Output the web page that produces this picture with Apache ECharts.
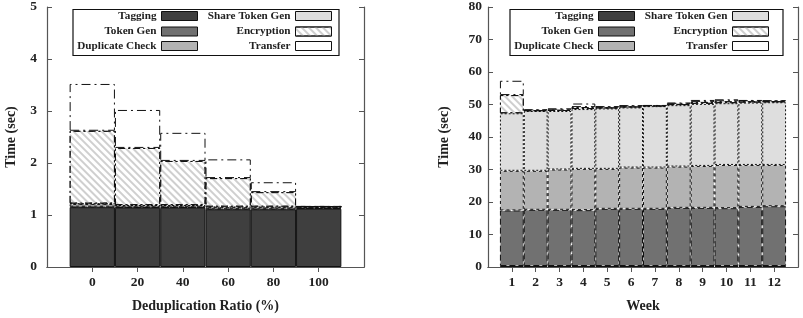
<!DOCTYPE html>
<html><head><meta charset="utf-8">
<script src="https://cdn.jsdelivr.net/npm/echarts@6/dist/echarts.min.js"></script>
<style>html,body{margin:0;padding:0;background:#fff}#c{width:803px;height:318px}</style>
</head><body><div id="c"></div>
<script>
// ---- data ----
const ratioLabels = ['0', '20', '40', '60', '80', '100'];
const weekLabels = ['1', '2', '3', '4', '5', '6', '7', '8', '9', '10', '11', '12'];
const seriesNames = ['Tagging', 'Token Gen', 'Duplicate Check', 'Share Token Gen', 'Encryption', 'Transfer'];

const leftTagging = [1.15, 1.14, 1.14, 1.11, 1.11, 1.12];
const leftTokenGen = [0.01, 0.01, 0.01, 0.01, 0.01, 0.01];
const leftDuplicateCheck = [0.05, 0.03, 0.03, 0.03, 0.03, 0.02];
const leftShareTokenGen = [0.01, 0.01, 0.01, 0.01, 0.01, 0.01];
const leftEncryption = [1.40, 1.10, 0.85, 0.55, 0.28, 0];
const leftTransfer = [0.90, 0.73, 0.54, 0.36, 0.19, 0.01];

const rightTagging = [0.3, 0.3, 0.3, 0.3, 0.3, 0.3, 0.3, 0.3, 0.3, 0.3, 0.3, 0.3];
const rightTokenGen = [17.1, 17.3, 17.3, 17.2, 17.6, 17.6, 17.6, 17.9, 17.9, 17.8, 18.2, 18.4];
const rightDuplicateCheck = [12.2, 12.0, 12.4, 12.7, 12.3, 12.7, 12.7, 12.7, 12.9, 13.3, 12.9, 12.7];
const rightShareTokenGen = [17.7, 18.4, 18.0, 18.4, 18.6, 18.5, 18.9, 18.9, 19.1, 19.0, 19.2, 19.3];
const rightEncryption = [5.6, 0.2, 0.4, 0.6, 0.3, 0.3, 0.1, 0.4, 0.6, 0.6, 0.4, 0.3];
const rightTransfer = [4.4, 0.3, 0.4, 1.1, 0.4, 0.4, 0.2, 0.4, 0.6, 0.6, 0.4, 0.3];

const leftValues = [leftTagging, leftTokenGen, leftDuplicateCheck, leftShareTokenGen, leftEncryption, leftTransfer];
const rightValues = [rightTagging, rightTokenGen, rightDuplicateCheck, rightShareTokenGen, rightEncryption, rightTransfer];

// ---- styles ----
const FONT = 'Liberation Serif';
const layerStyle = {
  'Tagging': { color: '#3f3f3f', borderType: 'solid' },
  'Token Gen': { color: '#717171', borderType: [6, 3] },
  'Duplicate Check': { color: '#b3b3b3', borderType: [3, 3] },
  'Share Token Gen': { color: '#dedede', borderType: [2, 2] },
  'Encryption': { color: '#ffffff', borderType: [7, 3, 2, 3],
    decal: { symbol: 'rect', color: '#cfcfcf', dashArrayX: [1, 0], dashArrayY: [1.5, 2.5], rotation: Math.PI / 4, symbolSize: 1 } },
  'Transfer': { color: '#ffffff', borderType: [9, 4, 2, 4] }
};

function pad(arr) { return [''].concat(arr, ['']); }
function padVals(arr) { return [null].concat(arr, [null]); }

function xAxes(gridIndex, labels, name) {
  const cats = pad(labels);
  const n = cats.length;
  const tickInt = (i) => i > 0 && i < n - 1;
  return [
    { type: 'category', gridIndex, data: cats, boundaryGap: false, position: 'bottom',
      name, nameLocation: 'middle', nameGap: 32,
      nameTextStyle: { fontFamily: FONT, fontWeight: 'bold', fontSize: 14, color: '#222' },
      axisLine: { lineStyle: { color: '#555', width: 1.2 } },
      axisTick: { inside: true, length: 5, interval: tickInt, lineStyle: { color: '#555' } },
      axisLabel: { interval: 0, margin: 9, fontFamily: FONT, fontWeight: 'bold', fontSize: 13.5, color: '#222' },
      splitLine: { show: false } },
    { type: 'category', gridIndex, data: cats, boundaryGap: false, position: 'top',
      axisLine: { lineStyle: { color: '#555', width: 1.2 } },
      axisTick: { inside: true, length: 5, interval: tickInt, lineStyle: { color: '#555' } },
      axisLabel: { show: false }, splitLine: { show: false } }
  ];
}
function yAxes(gridIndex, max, interval, nameGap, margin) {
  return [
    { type: 'value', gridIndex, min: 0, max, interval, position: 'left',
      name: 'Time (sec)', nameLocation: 'middle', nameGap,
      nameTextStyle: { fontFamily: FONT, fontWeight: 'bold', fontSize: 14, color: '#222' },
      axisLine: { show: true, lineStyle: { color: '#555', width: 1.2 } },
      axisTick: { show: true, inside: true, length: 5, lineStyle: { color: '#555' } },
      axisLabel: { margin, fontFamily: FONT, fontWeight: 'bold', fontSize: 13.5, color: '#222' },
      splitLine: { show: false } },
    { type: 'value', gridIndex, min: 0, max, interval, position: 'right',
      axisLine: { show: true, lineStyle: { color: '#555', width: 1.2 } },
      axisTick: { show: true, inside: true, length: 5, lineStyle: { color: '#555' } },
      axisLabel: { show: false }, splitLine: { show: false } }
  ];
}

function makeSeries(values, xi, yi, stack) {
  return seriesNames.map((name, k) => {
    const st = layerStyle[name];
    const itemStyle = { color: st.color, borderColor: '#111', borderWidth: 1, borderType: st.borderType };
    if (st.decal) itemStyle.decal = st.decal;
    return { type: 'bar', name, stack, xAxisIndex: xi, yAxisIndex: yi, barWidth: '100%',
      data: padVals(values[k]), itemStyle, emphasis: { disabled: true }, animation: false };
  });
}

// legends: one per item, right-aligned text then swatch
const legendCols = [[605, 471], [168, 34]];
const legendRows = [10.5, 26, 40.5];
const legends = [];
legendCols.forEach(cols => {
  seriesNames.forEach((name, k) => {
    const col = Math.floor(k / 3), row = k % 3;
    legends.push({ data: [name], align: 'right', orient: 'horizontal', right: cols[col], top: legendRows[row],
      padding: 0, itemWidth: 36, itemHeight: 9, icon: 'rect', selectedMode: false,
      itemStyle: { borderWidth: 1 },
      textStyle: { fontFamily: FONT, fontWeight: 'bold', fontSize: 11.2, color: '#222' } });
  });
});

const chart = echarts.init(document.getElementById('c'), null, { renderer: 'canvas' });
chart.setOption({
  animation: false,
  backgroundColor: '#fff',
  grid: [
    { left: 47, top: 7, width: 317, height: 260 },
    { left: 488, top: 7, width: 310, height: 260 }
  ],
  xAxis: xAxes(0, ratioLabels, 'Deduplication Ratio (%)').concat(xAxes(1, weekLabels, 'Week')),
  yAxis: yAxes(0, 5, 1, 29, 10).concat(yAxes(1, 80, 10, 37, 6)),
  legend: legends,
  graphic: [
    { type: 'rect', shape: { x: 73, y: 9.5, width: 266, height: 46 }, style: { fill: 'none', stroke: '#111', lineWidth: 1.2 }, z: 10 },
    { type: 'rect', shape: { x: 510, y: 9.5, width: 273, height: 46 }, style: { fill: 'none', stroke: '#111', lineWidth: 1.2 }, z: 10 }
  ],
  series: makeSeries(leftValues, 0, 0, 'L').concat(makeSeries(rightValues, 2, 2, 'R'))
});
</script>
</body></html>
